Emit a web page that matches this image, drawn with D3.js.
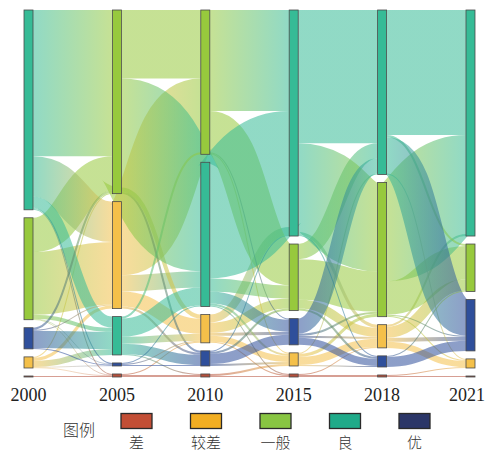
<!DOCTYPE html>
<html><head><meta charset="utf-8">
<script src="https://cdn.jsdelivr.net/npm/d3@7/dist/d3.min.js"></script>
<style>body{margin:0;background:#fff}svg{display:block}</style>
</head><body>
<svg id="chart" width="486" height="454"></svg>
<script>
// ---------- data ----------
const years = ["2000", "2005", "2010", "2015", "2018", "2021"];
const categories = ["差", "较差", "一般", "良", "优"];
const nodeColors = ["#b5503c", "#f4c04a", "#97c93d", "#36bb96", "#2f4f9b"];
const legendColors = ["#c24e35", "#f2ae22", "#88c542", "#1faa89", "#2b3668"];
// top-to-bottom order of the grades in each year's column
const order2000 = ["良", "一般", "优", "较差", "差"];
const order2005 = ["一般", "较差", "良", "优", "差"];
const order2010 = ["一般", "良", "较差", "优", "差"];
const order2015 = ["良", "一般", "优", "较差", "差"];
const order2018 = ["良", "一般", "较差", "优", "差"];
const order2021 = ["良", "一般", "优", "较差", "差"];
const columnOrders = [order2000, order2005, order2010, order2015, order2018, order2021];
const legendTitle = "图例";
// rows = source category, columns = target category (order of `categories`)
const flows2000_2005 = [
  [1, 0, 0, 0, 0],
  [0.5, 3, 1, 6, 0.5],
  [0.5, 62, 34, 4, 0.5],
  [1, 40, 145, 11, 1],
  [0, 1, 2, 17, 1]
];
const flows2005_2010 = [
  [2, 1, 0, 0, 0],
  [0, 15, 73, 16, 2],
  [0, 4, 68, 108, 2],
  [1, 7, 2, 18, 10],
  [0, 1, 0, 1, 1]
];
const flows2010_2015 = [
  [1, 2, 0, 0, 0],
  [1, 6, 10, 8, 3],
  [0, 1, 41, 100, 1],
  [1, 2, 13, 115, 12],
  [0, 2, 2, 1, 10]
];
const flows2015_2018 = [
  [2, 1, 0, 0, 0],
  [0, 8, 3, 1, 1],
  [0, 9, 40, 15, 2],
  [0, 3, 88, 132, 1],
  [0, 2, 2, 15, 7]
];
const flows2018_2021 = [
  [1, 1, 0, 0, 0],
  [0, 6, 11, 2, 4],
  [0, 1, 33, 98, 1],
  [0, 1, 2, 124, 36],
  [0, 0, 1, 0, 10]
];
const transitions = [flows2000_2005, flows2005_2010, flows2010_2015, flows2015_2018, flows2018_2021];

// ---------- layout ----------
const svg = d3.select("#chart");
const yTop = 10, yBottom = 377, nodeW = 9;
const x = d3.scalePoint().domain(years).range([24, 466]);
const color = d3.scaleOrdinal().domain(categories).range(nodeColors);
const legendColor = d3.scaleOrdinal().domain(categories).range(legendColors);

const columns = years.map((yr, ci) => categories.map((cat, k) => {
  const outV = ci < transitions.length ? d3.sum(transitions[ci][k]) : 0;
  const inV = ci > 0 ? d3.sum(transitions[ci - 1], r => r[k]) : 0;
  return {year: yr, col: ci, cat, k, value: Math.max(inV, outV), out: [], in: []};
}));
const maxTotal = d3.max(columns, c => d3.sum(c, n => n.value));
const basePad = 8;
const hScale = d3.scaleLinear().domain([0, maxTotal]).range([0, (yBottom - yTop) - basePad * (categories.length - 1)]);

columns.forEach((col, ci) => {
  const ord = columnOrders[ci];
  const sorted = col.slice().sort((a, b) => ord.indexOf(a.cat) - ord.indexOf(b.cat));
  const sumH = d3.sum(sorted, n => hScale(n.value));
  const pad = ((yBottom - yTop) - sumH) / (sorted.length - 1);
  let yy = yTop;
  sorted.forEach(n => {
    n.y0 = yy; n.y1 = yy + hScale(n.value);
    n.x0 = x(n.year); n.x1 = n.x0 + nodeW;
    yy = n.y1 + pad;
  });
});

const links = [];
transitions.forEach((m, ti) => {
  m.forEach((row, s) => row.forEach((v, t) => {
    if (v > 0) {
      const l = {source: columns[ti][s], target: columns[ti + 1][t], value: v, width: hScale(v)};
      l.source.out.push(l); l.target.in.push(l);
      links.push(l);
    }
  }));
});
columns.flat().forEach(n => {
  n.out.sort((a, b) => a.target.y0 - b.target.y0);
  let sy = n.y0;
  n.out.forEach(l => { l.sy = sy + l.width / 2; sy += l.width; });
  n.in.sort((a, b) => a.source.y0 - b.source.y0);
  let ty = n.y0;
  n.in.forEach(l => { l.ty = ty + l.width / 2; ty += l.width; });
});

const defs = svg.append("defs");
links.forEach((l, i) => {
  const g = defs.append("linearGradient").attr("id", "g" + i)
    .attr("gradientUnits", "userSpaceOnUse")
    .attr("x1", l.source.x1).attr("x2", l.target.x0).attr("y1", 0).attr("y2", 0);
  g.append("stop").attr("offset", "0%").attr("stop-color", color(l.source.cat));
  g.append("stop").attr("offset", "100%").attr("stop-color", color(l.target.cat));
});

const linkPath = d3.linkHorizontal();
svg.append("g").attr("fill", "none").attr("stroke-opacity", 0.55)
  .selectAll("path").data(links).join("path")
  .attr("d", l => linkPath({source: [l.source.x1, l.sy], target: [l.target.x0, l.ty]}))
  .attr("stroke", (l, i) => `url(#g${i})`)
  .attr("stroke-width", l => Math.max(0.6, l.width));

svg.append("g").selectAll("rect").data(columns.flat()).join("rect")
  .attr("x", n => n.x0).attr("y", n => n.y0)
  .attr("width", nodeW).attr("height", n => Math.max(1, n.y1 - n.y0))
  .attr("fill", n => color(n.cat))
  .attr("stroke", "#4a4a4a").attr("stroke-width", 0.8);

svg.append("g").selectAll("text").data(years).join("text")
  .attr("x", (d, i) => i === years.length - 1 ? 485 : x(d) + nodeW / 2).attr("y", 401)
  .attr("text-anchor", (d, i) => i === years.length - 1 ? "end" : "middle")
  .attr("font-family", "'Liberation Serif','DejaVu Serif',serif")
  .attr("font-size", 18).attr("fill", "#222")
  .text(d => d);

const lg = svg.append("g");
lg.append("text").attr("x", 63).attr("y", 436)
  .attr("font-family", "'Noto Sans CJK SC',sans-serif").attr("font-size", 16)
  .attr("font-weight", 300).attr("fill", "#333").text(legendTitle);
const lx = d3.scalePoint().domain(categories).range([121, 399]);
lg.selectAll("rect").data(categories).join("rect")
  .attr("x", d => lx(d)).attr("y", 413.5).attr("width", 31).attr("height", 15)
  .attr("fill", d => legendColor(d)).attr("stroke", "#2a2a2a").attr("stroke-width", 1.3);
lg.selectAll("text.lab").data(categories).join("text").attr("class", "lab")
  .attr("x", d => lx(d) + 15.5).attr("y", 448)
  .attr("text-anchor", "middle")
  .attr("font-family", "'Noto Sans CJK SC',sans-serif").attr("font-size", 15)
  .attr("font-weight", 300).attr("fill", "#333").text(d => d);
</script>
</body></html>
